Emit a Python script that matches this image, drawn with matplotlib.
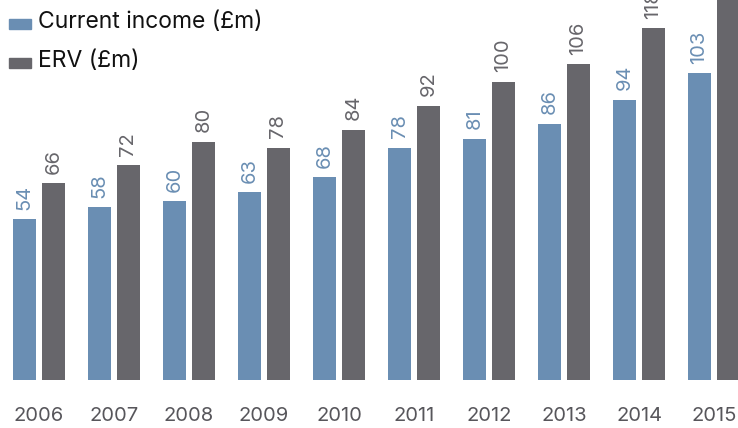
import matplotlib
matplotlib.use("Agg")
import matplotlib.pyplot as plt
import numpy as np
from matplotlib.patches import Rectangle

plt.rcParams['font.family'] = ['Inter', 'DejaVu Sans']

years = ['2006', '2007', '2008', '2009', '2010', '2011', '2012', '2013', '2014', '2015']
current_income = [54, 58, 60, 63, 68, 78, 81, 86, 94, 103]
erv = [66, 72, 80, 78, 84, 92, 100, 106, 118, 130]

blue = '#6a8eb3'
grey = '#67666b'

fig = plt.figure(figsize=(7.38, 4.28), dpi=100)
ax = fig.add_axes([0, 0, 1, 1])
ax.set_xlim(-39 / 75, (738 - 39) / 75)
ax.set_ylim(-48 / 2.98, 380 / 2.98)
ax.axis('off')

x = np.arange(len(years))
w = 23 / 75
off = 14.5 / 75
ax.bar(x - off, current_income, width=w, color=blue)
ax.bar(x + off, erv, width=w, color=grey)

for xi, v in zip(x, current_income):
    ax.text(xi - off, v + 3.2, str(v), rotation=90, ha='center', va='bottom',
            color=blue, fontsize=14.5)
for xi, v in zip(x, erv):
    ax.text(xi + off, v + 3.2, str(v), rotation=90, ha='center', va='bottom',
            color=grey, fontsize=14.5)

for xi, yr in zip(x, years):
    ax.text(xi, -36 / 2.98, yr, ha='center', va='center', color='#57565b',
            fontsize=14.5)

# legend
fig.patches.append(Rectangle((9 / 738, 1 - 29 / 428), 22 / 738, 10 / 428,
                             transform=fig.transFigure, color=blue))
fig.patches.append(Rectangle((9 / 738, 1 - 68 / 428), 22 / 738, 10 / 428,
                             transform=fig.transFigure, color=grey))
fig.text(38 / 738, 1 - 22 / 428, 'Current income (£m)', ha='left', va='center',
         fontsize=16.5, color='#111111')
fig.text(38 / 738, 1 - 61 / 428, 'ERV (£m)', ha='left', va='center',
         fontsize=16.5, color='#111111')

fig.savefig('out.png', dpi=100)
